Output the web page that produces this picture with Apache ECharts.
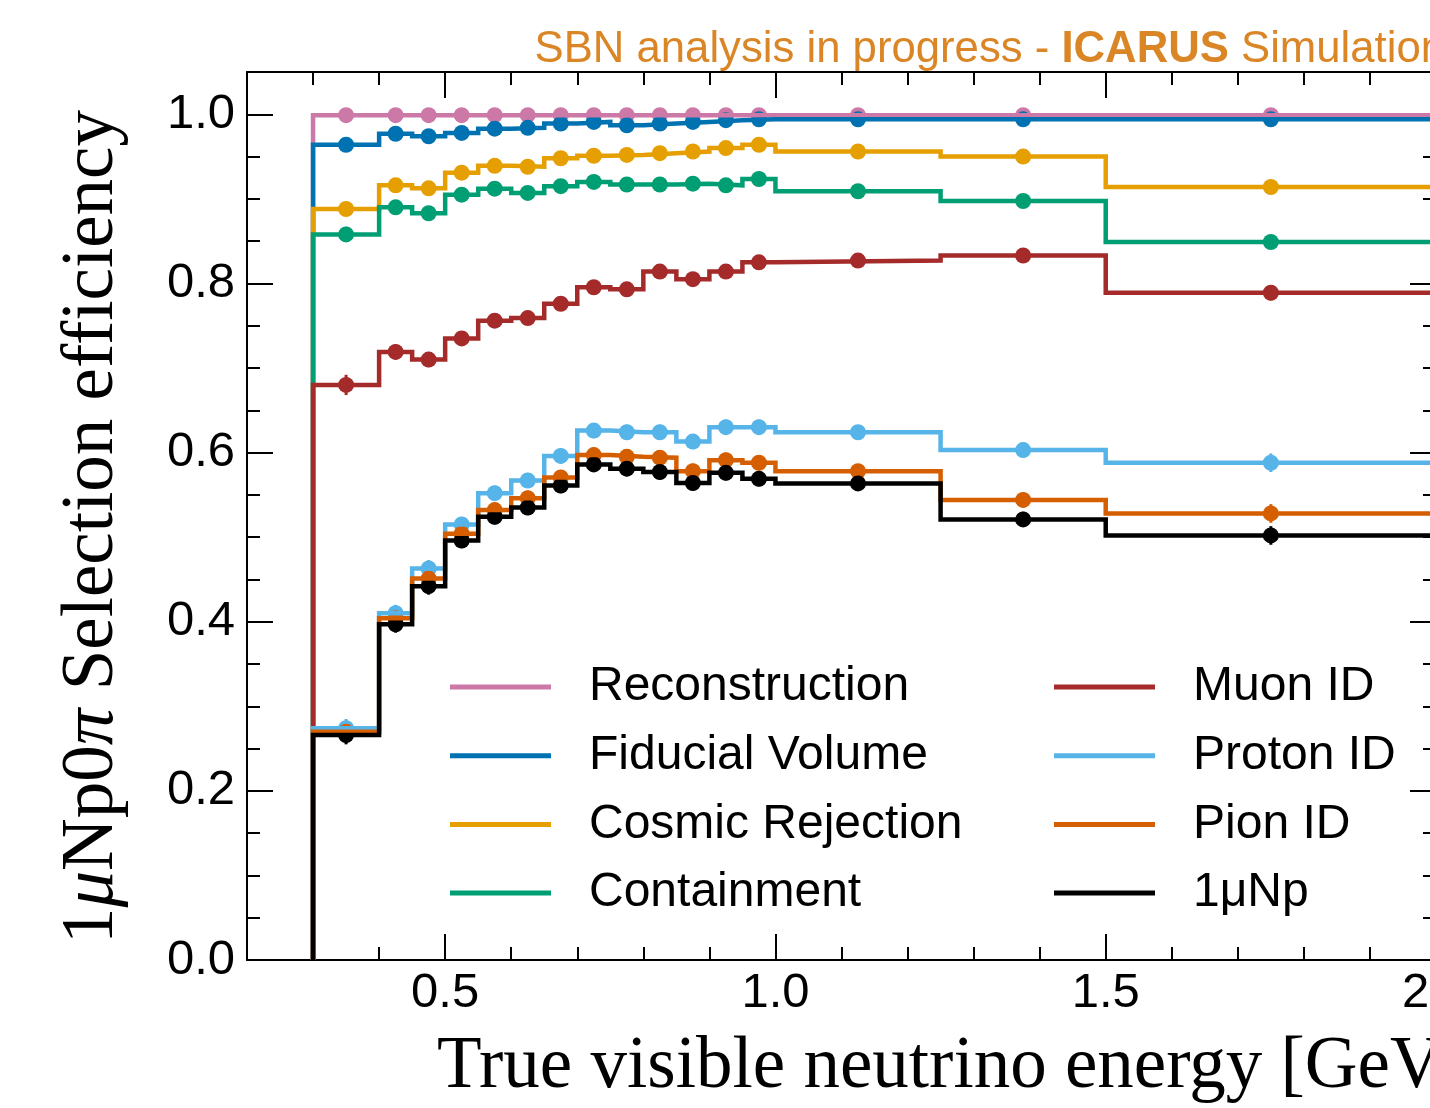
<!DOCTYPE html>
<html><head><meta charset="utf-8">
<script src="https://cdn.jsdelivr.net/npm/echarts@6/dist/echarts.min.js"></script>
<style>html,body{margin:0;padding:0;overflow:hidden;background:#fff}#c{width:1500px;height:1108px}</style>
</head><body><div id="c"></div><script>
// ---- data ----
const binEdges   = [0.3,0.4,0.45,0.5,0.55,0.6,0.65,0.7,0.75,0.8,0.85,0.9,0.95,1.0,1.25,1.5,2.0];
const binCenters = [0.35,0.425,0.475,0.525,0.575,0.625,0.675,0.725,0.775,0.825,0.875,0.925,0.975,1.125,1.375,1.75];
const seriesNames = ['Reconstruction','Fiducial Volume','Cosmic Rejection','Containment','Muon ID','Proton ID','Pion ID','1\u03bcNp'];
const reconstruction = [0.999,0.999,0.999,0.999,0.999,0.999,0.999,0.999,0.999,0.999,0.999,0.999,0.999,0.999,0.999,0.999];
const fiducialVolume = [0.964,0.977,0.974,0.978,0.983,0.984,0.989,0.991,0.987,0.989,0.991,0.993,0.994,0.994,0.994,0.994];
const cosmicRejection = [0.888,0.916,0.9125,0.931,0.939,0.938,0.948,0.951,0.952,0.954,0.956,0.960,0.964,0.956,0.950,0.914];
const containment = [0.858,0.890,0.883,0.905,0.912,0.907,0.915,0.920,0.917,0.917,0.918,0.916,0.9235,0.909,0.8975,0.849];
const muonID = [0.680,0.719,0.710,0.735,0.756,0.759,0.776,0.7955,0.793,0.814,0.805,0.814,0.825,0.827,0.833,0.789];
const protonID = [0.274,0.410,0.463,0.515,0.552,0.567,0.596,0.626,0.624,0.624,0.613,0.630,0.630,0.624,0.603,0.588];
const pionID = [0.270,0.404,0.451,0.504,0.532,0.546,0.5705,0.597,0.595,0.594,0.578,0.591,0.588,0.578,0.544,0.528];
const oneMuNp = [0.266,0.397,0.442,0.496,0.524,0.535,0.561,0.586,0.581,0.577,0.564,0.576,0.569,0.5635,0.521,0.502];
// estimated statistical uncertainties
const reconstructionErr = [0.002,0.002,0.002,0.002,0.002,0.002,0.002,0.002,0.002,0.002,0.002,0.002,0.002,0.002,0.002,0.002];
const fiducialVolumeErr = [0.005,0.004,0.004,0.003,0.003,0.003,0.003,0.003,0.003,0.003,0.003,0.003,0.003,0.002,0.002,0.002];
const cosmicRejectionErr = [0.008,0.006,0.006,0.005,0.005,0.005,0.005,0.005,0.005,0.005,0.005,0.005,0.005,0.004,0.005,0.006];
const containmentErr = [0.009,0.007,0.007,0.006,0.006,0.006,0.006,0.006,0.006,0.006,0.006,0.006,0.006,0.005,0.006,0.007];
const muonIDErr = [0.012,0.009,0.009,0.008,0.008,0.008,0.008,0.008,0.008,0.008,0.008,0.008,0.008,0.006,0.008,0.009];
const protonIDErr = [0.011,0.010,0.010,0.009,0.009,0.009,0.009,0.009,0.009,0.009,0.009,0.009,0.009,0.007,0.009,0.011];
const pionIDErr = [0.011,0.010,0.010,0.009,0.009,0.009,0.009,0.009,0.009,0.009,0.009,0.009,0.009,0.007,0.009,0.011];
const oneMuNpErr = [0.011,0.010,0.010,0.009,0.009,0.009,0.009,0.009,0.009,0.009,0.009,0.009,0.009,0.007,0.009,0.011];
const xMajorTicks = [0.5,1.0,1.5,2.0];
const xMinorTicks = [0.3,0.4,0.6,0.7,0.8,0.9,1.1,1.2,1.3,1.4,1.6,1.7,1.8,1.9];
const yMajorTicks = [0,0.2,0.4,0.6,0.8,1.0];
const yMinorTicks = [0.05,0.1,0.15,0.25,0.3,0.35,0.45,0.5,0.55,0.65,0.7,0.75,0.85,0.9,0.95];

const values = [reconstruction,fiducialVolume,cosmicRejection,containment,muonID,protonID,pionID,oneMuNp];
const errors = [reconstructionErr,fiducialVolumeErr,cosmicRejectionErr,containmentErr,muonIDErr,protonIDErr,pionIDErr,oneMuNpErr];
const colors = ['#CC79A7','#0072B2','#E69F00','#009E73','#A52A2A','#56B4E9','#D55E00','#000000'];

const XMIN = 0.2, XMAX = 2.0, YMIN = 0, YMAX = 1.05;
const sans = 'Liberation Sans';
const serif = 'Liberation Serif';

function stepData(v){
  const d = [[binEdges[0], 0]];
  for (let i = 0; i < v.length; i++) d.push([binEdges[i], v[i]]);
  d.push([binEdges[binEdges.length-1], v[v.length-1]]);
  return d;
}

const series = [];
values.forEach((v, k) => {
  const c = colors[k];
  series.push({
    name: seriesNames[k], type: 'line', step: 'end', data: stepData(v),
    symbol: 'none', lineStyle: {color: c, width: 4.5, join: 'miter', cap: 'butt'},
    itemStyle: {color: c}, xAxisIndex: 0, yAxisIndex: 0, silent: true
  });
  series.push({
    name: seriesNames[k], type: 'custom', xAxisIndex: 0, yAxisIndex: 0, silent: true,
    data: v.map((y, i) => [binCenters[i], y, errors[k][i]]),
    renderItem: (params, api) => {
      const p1 = api.coord([api.value(0), api.value(1) - api.value(2)]);
      const p2 = api.coord([api.value(0), api.value(1) + api.value(2)]);
      return {type: 'line', shape: {x1: p1[0], y1: p1[1], x2: p2[0], y2: p2[1]},
              style: {stroke: c, lineWidth: 3}};
    }
  });
  series.push({
    name: seriesNames[k], type: 'scatter', xAxisIndex: 0, yAxisIndex: 0, silent: true,
    data: v.map((y, i) => [binCenters[i], y]),
    symbol: 'circle', symbolSize: 16, itemStyle: {color: c, opacity: 1}
  });
});

function xAxisDef(pos, ticks, len, labels, line){
  return {type: 'value', min: XMIN, max: XMAX, position: pos, gridIndex: 0,
    axisLine: {show: line, onZero: false, lineStyle: {color: '#000', width: 2}},
    axisTick: {show: true, inside: true, length: len, customValues: ticks, lineStyle: {color: '#000', width: 2}},
    axisLabel: labels ? {show: true, customValues: xMajorTicks, margin: 9,
      formatter: v => Number(v).toFixed(1), color: '#000', fontFamily: sans, fontSize: 49} : {show: false},
    splitLine: {show: false}};
}
function yAxisDef(pos, ticks, len, labels, line){
  return {type: 'value', min: YMIN, max: YMAX, position: pos, gridIndex: 0,
    axisLine: {show: line, onZero: false, lineStyle: {color: '#000', width: 2}},
    axisTick: {show: true, inside: true, length: len, customValues: ticks, lineStyle: {color: '#000', width: 2}},
    axisLabel: labels ? {show: true, customValues: yMajorTicks, margin: 12,
      formatter: v => Number(v).toFixed(1), color: '#000', fontFamily: sans, fontSize: 49} : {show: false},
    splitLine: {show: false}};
}

const legendText = {fontFamily: sans, fontSize: 48, color: '#000', lineHeight: 48, padding: [0,0,0,33]};
const option = {
  animation: false,
  backgroundColor: '#fff',
  grid: {left: 247, top: 72, right: 64, bottom: 148, containLabel: false},
  xAxis: [
    xAxisDef('bottom', xMajorTicks, 26, true, true),
    xAxisDef('bottom', xMinorTicks, 13, false, false),
    xAxisDef('top', xMajorTicks, 26, false, true),
    xAxisDef('top', xMinorTicks, 13, false, false)
  ],
  yAxis: [
    yAxisDef('left', yMajorTicks, 26, true, true),
    yAxisDef('left', yMinorTicks, 13, false, false),
    yAxisDef('right', yMajorTicks, 26, false, true),
    yAxisDef('right', yMinorTicks, 13, false, false)
  ],
  legend: [
    {data: seriesNames.slice(0,4), left: 450, top: 663, padding: 0, orient: 'vertical', icon: 'rect',
     itemWidth: 101, itemHeight: 5, itemGap: 20.7, textStyle: legendText, selectedMode: false},
    {data: seriesNames.slice(4), left: 1054, top: 663, padding: 0, orient: 'vertical', icon: 'rect',
     itemWidth: 101, itemHeight: 5, itemGap: 20.7, textStyle: legendText, selectedMode: false}
  ],
  graphic: [
    {type: 'text', x: 1445, y: 50, silent: true,
     style: {text: '{n|SBN analysis in progress - }{b|ICARUS}{n| Simulation}', align: 'right', verticalAlign: 'middle',
       rich: {n: {fontFamily: sans, fontSize: 43.7, fill: '#DA8626', color: '#DA8626'},
              b: {fontFamily: sans, fontSize: 43.7, fontWeight: 'bold', fill: '#DA8626', color: '#DA8626'}}}},
    {type: 'text', x: 437, y: 1068, silent: true,
     style: {text: 'True visible neutrino energy [GeV]', align: 'left', verticalAlign: 'middle',
       fontFamily: serif, fontSize: 73, fill: '#000'}},
    {type: 'text', x: 93, y: 527, rotation: Math.PI/2, silent: true,
     style: {text: '{r|1}{i|\u03bc}{r|Np0}{i|\u03c0}{r| Selection efficiency}', align: 'center', verticalAlign: 'middle',
       rich: {r: {fontFamily: serif, fontSize: 73, fill: '#000', color: '#000'},
              i: {fontFamily: serif, fontSize: 73, fontStyle: 'italic', fill: '#000', color: '#000'}}}}
  ],
  series: series
};
const chart = echarts.init(document.getElementById('c'), null, {renderer: 'canvas'});
chart.setOption(option);
</script></body></html>
